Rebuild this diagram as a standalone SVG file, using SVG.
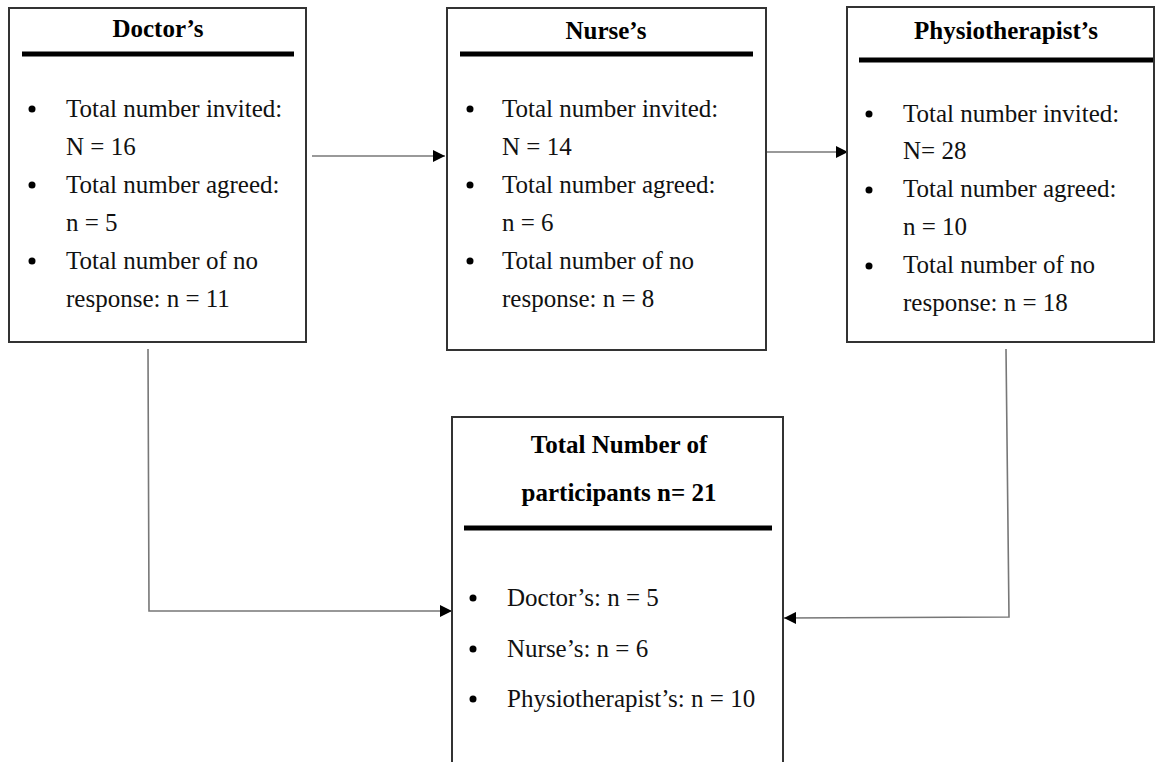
<svg xmlns="http://www.w3.org/2000/svg" width="1156" height="762" viewBox="0 0 1156 762">
<style>
.box{fill:#fff;stroke:#333;stroke-width:2}
.rule{stroke:#000;stroke-width:5}
.title{font-family:"Liberation Serif","Times New Roman",serif;font-weight:bold;font-size:25px;fill:#000;text-anchor:middle}
.body{font-family:"Liberation Serif","Times New Roman",serif;font-size:25px;fill:#111}
.dot{fill:#000}
.conn{fill:none;stroke:#777;stroke-width:1.6}
</style>
<defs>
<marker id="arr" viewBox="0 0 10 10" refX="10" refY="5" markerWidth="12" markerHeight="12" markerUnits="userSpaceOnUse" orient="auto">
<path d="M0,0 L10,5 L0,10 Z" fill="#000"/>
</marker>
</defs>
<rect width="1156" height="762" fill="#fff"/>
<g id="connectors">
<line class="conn" x1="312" y1="156" x2="445" y2="156" marker-end="url(#arr)"/>
<line class="conn" x1="767" y1="152" x2="848" y2="152" marker-end="url(#arr)"/>
<polyline class="conn" points="148,349 149,611 452,611" marker-end="url(#arr)"/>
<polyline class="conn" points="1006,349 1009,617 784,618" marker-end="url(#arr)"/>
</g>
<g id="doctor">
<rect class="box" x="9" y="8" width="297" height="334"/>
<text class="title" x="158" y="37">Doctor’s</text>
<line class="rule" x1="22" y1="54" x2="294" y2="54"/>
<circle class="dot" cx="32" cy="109" r="3.5"/>
<circle class="dot" cx="32" cy="185" r="3.5"/>
<circle class="dot" cx="32" cy="261" r="3.5"/>
<text class="body" x="66" y="117">Total number invited:</text>
<text class="body" x="66" y="155">N = 16</text>
<text class="body" x="66" y="193">Total number agreed:</text>
<text class="body" x="66" y="231">n = 5</text>
<text class="body" x="66" y="269">Total number of no</text>
<text class="body" x="66" y="307">response: n = 11</text>
</g>
<g id="nurse">
<rect class="box" x="447" y="8" width="319" height="342"/>
<text class="title" x="606" y="39">Nurse’s</text>
<line class="rule" x1="460" y1="54" x2="753" y2="54"/>
<circle class="dot" cx="470" cy="109" r="3.5"/>
<circle class="dot" cx="470" cy="185" r="3.5"/>
<circle class="dot" cx="470" cy="261" r="3.5"/>
<text class="body" x="502" y="117">Total number invited:</text>
<text class="body" x="502" y="155">N = 14</text>
<text class="body" x="502" y="193">Total number agreed:</text>
<text class="body" x="502" y="231">n = 6</text>
<text class="body" x="502" y="269">Total number of no</text>
<text class="body" x="502" y="307">response: n = 8</text>
</g>
<g id="physio">
<rect class="box" x="847" y="7" width="307" height="335"/>
<text class="title" x="1006" y="39">Physiotherapist’s</text>
<line class="rule" x1="859" y1="60" x2="1153" y2="60"/>
<circle class="dot" cx="869" cy="114" r="3.5"/>
<circle class="dot" cx="869" cy="190" r="3.5"/>
<circle class="dot" cx="869" cy="266" r="3.5"/>
<text class="body" x="903" y="122">Total number invited:</text>
<text class="body" x="903" y="159">N= 28</text>
<text class="body" x="903" y="197">Total number agreed:</text>
<text class="body" x="903" y="235">n = 10</text>
<text class="body" x="903" y="273">Total number of no</text>
<text class="body" x="903" y="311">response: n = 18</text>
</g>
<g id="total">
<path class="box" d="M452,764 L452,417 L783,417 L783,764"/>
<text class="title" x="619" y="453">Total Number of</text>
<text class="title" x="619" y="501">participants n= 21</text>
<line class="rule" x1="464" y1="528" x2="772" y2="528"/>
<circle class="dot" cx="473" cy="598" r="3.5"/>
<circle class="dot" cx="473" cy="649" r="3.5"/>
<circle class="dot" cx="473" cy="699" r="3.5"/>
<text class="body" x="507" y="606">Doctor’s: n = 5</text>
<text class="body" x="507" y="657">Nurse’s: n = 6</text>
<text class="body" x="507" y="707">Physiotherapist’s: n = 10</text>
</g>
</svg>
